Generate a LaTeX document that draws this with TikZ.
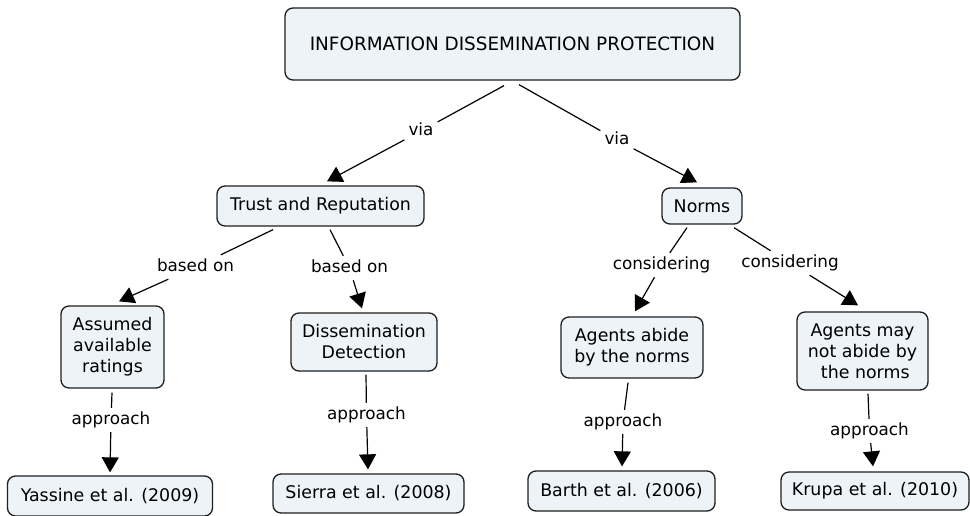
\documentclass[tikz,border=0pt]{standalone}
\usepackage{fontspec}
\setmainfont{DejaVu Sans}
\usetikzlibrary{arrows.meta}
\definecolor{boxfill}{RGB}{237,243,246}
\definecolor{boxline}{RGB}{30,30,30}
\begin{document}
\begin{tikzpicture}[x=1pt,y=-1pt,
  concept/.style={draw=boxline,line width=1.3pt,fill=boxfill,rounded corners=8pt,
    align=center,inner sep=2pt,font=\fontsize{17.4}{21}\selectfont},
  linkword/.style={inner sep=4pt,text height=12pt,text depth=4pt,
    font=\fontsize{16.8}{21}\selectfont},
  conn/.style={line width=1.2pt,draw=black},
  arr/.style={conn,-{Triangle[length=15pt,width=17pt]}}]
\useasboundingbox (0,0) rectangle (970,515);

% concepts
\node[concept,minimum width=455pt,minimum height=72pt,font=\fontsize{18.4}{22}\selectfont] (top) at (512.5,44) {INFORMATION DISSEMINATION PROTECTION};
\node[concept,minimum width=207pt,minimum height=40pt] (trust) at (320.5,206) {Trust and Reputation};
\node[concept,minimum width=80pt,minimum height=36pt] (norms) at (702,206) {Norms};
\node[concept,minimum width=103pt,minimum height=82pt] (assumed) at (112.5,347) {Assumed\\available\\ratings};
\node[concept,minimum width=146pt,minimum height=58pt] (dissem) at (364,342) {Dissemination\\Detection};
\node[concept,minimum width=142pt,minimum height=61pt] (abide) at (632,347.5) {Agents abide\\by the norms};
\node[concept,minimum width=131pt,minimum height=78pt] (maynot) at (862.5,351) {Agents may\\not abide by\\\ the norms};
\node[concept,minimum width=205pt,minimum height=40pt] (yassine) at (110,496) {Yassine et al. (2009)};
\node[concept,minimum width=191pt,minimum height=39pt] (sierra) at (368.5,493.5) {Sierra et al. (2008)};
\node[concept,minimum width=187pt,minimum height=40pt] (barth) at (621.5,491) {Barth et al. (2006)};
\node[concept,minimum width=188pt,minimum height=38pt] (krupa) at (875,491) {Krupa et al. (2010)};

% linking words
\node[linkword] (via1) at (421,131) {via};
\node[linkword] (via2) at (617,140) {via};
\node[linkword] (based1) at (195.5,267) {based on};
\node[linkword] (based2) at (349.5,268) {based on};
\node[linkword] (cons1) at (661.5,265) {considering};
\node[linkword] (cons2) at (790,263) {considering};
\node[linkword] (appr1) at (111,420) {approach};
\node[linkword] (appr2) at (366.5,415) {approach};
\node[linkword] (appr3) at (623,422) {approach};
\node[linkword] (appr4) at (869.5,431) {approach};

% connectors
\draw[conn] ([xshift=-8.5pt,yshift=-5pt]top.south) -- (via1);
\draw[arr] (via1) -- ([xshift=6.5pt,yshift=4pt]trust.north);
\draw[conn] ([xshift=6.5pt,yshift=-4pt]top.south) -- (via2);
\draw[arr] (via2) -- ([xshift=-5pt,yshift=5pt]norms.north);

\draw[conn] ([xshift=-47.5pt,yshift=-3pt]trust.south) -- (based1);
\draw[arr] (based1) -- ([xshift=6.5pt,yshift=4pt]assumed.north);
\draw[conn] ([xshift=9.5pt,yshift=-3pt]trust.south) -- (based2);
\draw[arr] (based2) -- ([xshift=-2pt,yshift=4pt]dissem.north);

\draw[conn] ([xshift=-15pt,yshift=-3pt]norms.south) -- (cons1);
\draw[arr] (cons1) -- ([xshift=3pt,yshift=5pt]abide.north);
\draw[conn] ([xshift=32pt,yshift=-3pt]norms.south) -- (cons2);
\draw[arr] (cons2) -- ([xshift=-4.5pt,yshift=6pt]maynot.north);

\draw[conn] ([xshift=-0.5pt,yshift=-4pt]assumed.south) -- (appr1);
\draw[arr] (appr1) -- ([yshift=3pt]yassine.north);
\draw[conn] ([xshift=2pt,yshift=-3pt]dissem.south) -- (appr2);
\draw[arr] (appr2) -- ([xshift=-0.5pt,yshift=4pt]sierra.north);
\draw[conn] ([xshift=-4pt,yshift=-4pt]abide.south) -- (appr3);
\draw[arr] (appr3) -- ([xshift=0.5pt,yshift=4pt]barth.north);
\draw[conn] ([xshift=5.5pt,yshift=-3pt]maynot.south) -- (appr4);
\draw[arr] (appr4) -- ([xshift=-2pt,yshift=5pt]krupa.north);
\end{tikzpicture}
\end{document}
